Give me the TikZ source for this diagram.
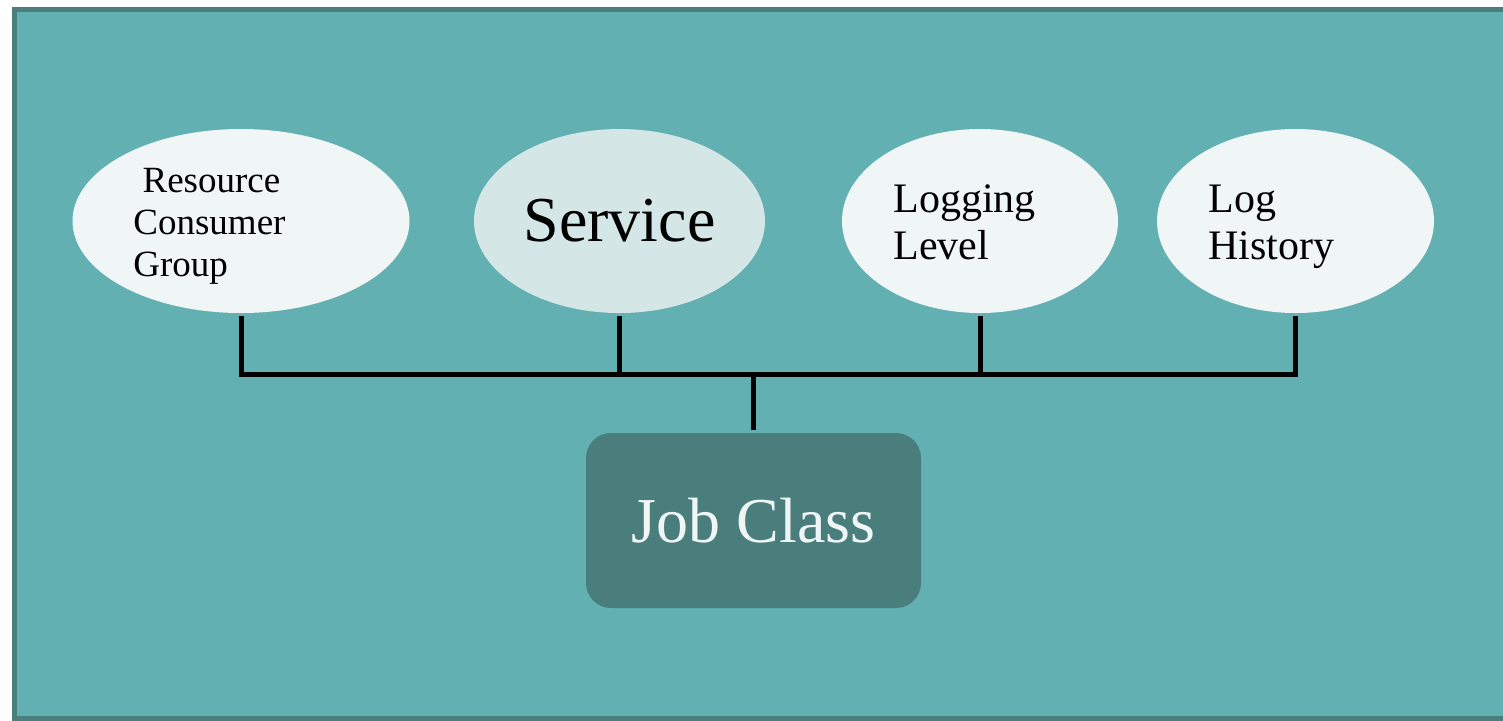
\documentclass[tikz,border=0pt]{standalone}
\usepackage{fontspec}
\setmainfont{Liberation Serif}
\usetikzlibrary{shapes.geometric}

\definecolor{panelfill}{HTML}{62B0B2}
\definecolor{panelrim}{HTML}{4A7F7E}
\definecolor{bubblefill}{HTML}{F0F6F6}
\definecolor{bubblehi}{HTML}{D4E7E6}
\definecolor{jobfill}{HTML}{497E7D}

\tikzset{
  bubble/.style={ellipse, fill=bubblefill, inner sep=0pt, minimum height=92pt},
  wire/.style={line width=2.5pt, black},
  label text/.style={align=left, inner sep=0pt, anchor=north west},
  jobbox/.style={rectangle, rounded corners=12.5pt, fill=jobfill, text=bubblefill,
                 minimum width=167.5pt, minimum height=87.5pt, inner sep=0pt},
}

\begin{document}
\begin{tikzpicture}[x=0.5pt, y=-0.5pt]

    \clip (0,0) rectangle (1503,720);

    % panel
    \draw [line width=2.5pt, draw=panelrim, fill=panelfill] (14.5,9.5) rectangle (1512,718.5);

    % the four attributes
    \node [bubble, minimum width=168.5pt] (rcg) at (241,221) {};
    \node [bubble, minimum width=145.5pt, fill=bubblehi, font=\fontsize{32}{36}\selectfont] (svc) at (619.5,221) {Service};
    \node [bubble, minimum width=138pt] (logl) at (980,221) {};
    \node [bubble, minimum width=138.5pt] (logh) at (1295.5,221) {};

    \node [label text, font=\fontsize{18.5}{21}\selectfont] (rcg text) at (133,167.5) {\hspace*{4.6pt}Resource\\Consumer\\Group};
    \node [label text, font=\fontsize{21}{23.5}\selectfont] (logl text) at (893,184.5) {Logging\\Level};
    \node [label text, font=\fontsize{21}{23.5}\selectfont] (logh text) at (1208,185) {Log\\History};

    \node [jobbox, font=\fontsize{32}{36}\selectfont] (job) at (753.5,520.5) {Job Class};

    % bus
    \coordinate (hub) at (753.5,374);
    \draw [wire, shorten <=1.5pt, shorten >=1.5pt] (rcg.south) |- (hub) -| (logh.south);
    \draw [wire, shorten <=1.5pt] (svc.south)  -- (svc.south |- hub);
    \draw [wire, shorten <=1.5pt] (logl.south) -- (logl.south |- hub);
    \draw [wire, shorten >=1.5pt] (hub) -- (job.north);

\end{tikzpicture}
\end{document}
